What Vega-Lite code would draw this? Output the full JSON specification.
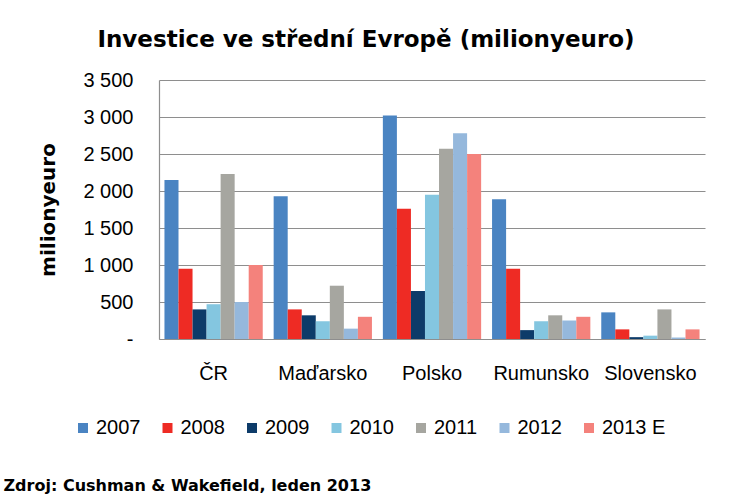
{
  "$schema": "https://vega.github.io/schema/vega-lite/v6.json",
  "autosize": {"type": "none"},
  "width": 546,
  "height": 259,
  "padding": {"left": 159, "top": 80, "right": 28, "bottom": 158},
  "background": "white",
  "title": {
    "text": "Investice ve střední Evropě (milionyeuro)",
    "font": "DejaVu Sans",
    "fontSize": 23,
    "fontWeight": "bold",
    "color": "#000000",
    "anchor": "middle",
    "frame": "group",
    "baseline": "alphabetic",
    "offset": 32,
    "dy": 32,
    "dx": -66
  },
  "data": {
    "values": [
      {"zeme": "ČR", "rok": "2007", "hodnota": 2150},
      {"zeme": "ČR", "rok": "2008", "hodnota": 950},
      {"zeme": "ČR", "rok": "2009", "hodnota": 400},
      {"zeme": "ČR", "rok": "2010", "hodnota": 470},
      {"zeme": "ČR", "rok": "2011", "hodnota": 2230},
      {"zeme": "ČR", "rok": "2012", "hodnota": 500},
      {"zeme": "ČR", "rok": "2013 E", "hodnota": 1000},
      {"zeme": "Maďarsko", "rok": "2007", "hodnota": 1930},
      {"zeme": "Maďarsko", "rok": "2008", "hodnota": 400},
      {"zeme": "Maďarsko", "rok": "2009", "hodnota": 320},
      {"zeme": "Maďarsko", "rok": "2010", "hodnota": 240},
      {"zeme": "Maďarsko", "rok": "2011", "hodnota": 720},
      {"zeme": "Maďarsko", "rok": "2012", "hodnota": 140},
      {"zeme": "Maďarsko", "rok": "2013 E", "hodnota": 300},
      {"zeme": "Polsko", "rok": "2007", "hodnota": 3020},
      {"zeme": "Polsko", "rok": "2008", "hodnota": 1760},
      {"zeme": "Polsko", "rok": "2009", "hodnota": 650},
      {"zeme": "Polsko", "rok": "2010", "hodnota": 1950},
      {"zeme": "Polsko", "rok": "2011", "hodnota": 2570},
      {"zeme": "Polsko", "rok": "2012", "hodnota": 2780},
      {"zeme": "Polsko", "rok": "2013 E", "hodnota": 2500},
      {"zeme": "Rumunsko", "rok": "2007", "hodnota": 1890},
      {"zeme": "Rumunsko", "rok": "2008", "hodnota": 950},
      {"zeme": "Rumunsko", "rok": "2009", "hodnota": 120},
      {"zeme": "Rumunsko", "rok": "2010", "hodnota": 240},
      {"zeme": "Rumunsko", "rok": "2011", "hodnota": 320},
      {"zeme": "Rumunsko", "rok": "2012", "hodnota": 250},
      {"zeme": "Rumunsko", "rok": "2013 E", "hodnota": 300},
      {"zeme": "Slovensko", "rok": "2007", "hodnota": 360},
      {"zeme": "Slovensko", "rok": "2008", "hodnota": 130},
      {"zeme": "Slovensko", "rok": "2009", "hodnota": 25},
      {"zeme": "Slovensko", "rok": "2010", "hodnota": 45},
      {"zeme": "Slovensko", "rok": "2011", "hodnota": 400},
      {"zeme": "Slovensko", "rok": "2012", "hodnota": 20},
      {"zeme": "Slovensko", "rok": "2013 E", "hodnota": 130}
    ]
  },
  "mark": {"type": "bar"},
  "encoding": {
    "x": {
      "field": "zeme",
      "type": "nominal",
      "sort": null,
      "scale": {"paddingInner": 0.1, "paddingOuter": 0.05},
      "axis": {
        "title": "Zdroj: Cushman & Wakefield, leden 2013",
        "titleFont": "DejaVu Sans",
        "titleFontSize": 16,
        "titleFontWeight": "bold",
        "titleColor": "#000000",
        "titleAlign": "left",
        "titleAnchor": "start",
        "titleBaseline": "alphabetic",
        "titleX": -156,
        "titleY": 151,
        "labelAngle": 0,
        "labelFont": "Liberation Sans",
        "labelFontSize": 20,
        "labelColor": "#000000",
        "labelPadding": 24,
        "ticks": false,
        "domainColor": "#8e8e8e",
        "domainWidth": 1.2
      }
    },
    "xOffset": {
      "field": "rok",
      "type": "nominal",
      "sort": null,
      "scale": {"paddingInner": 0, "paddingOuter": 0}
    },
    "y": {
      "field": "hodnota",
      "type": "quantitative",
      "scale": {"domain": [0, 3500], "nice": false},
      "axis": {
        "title": "milionyeuro",
        "titleFont": "DejaVu Sans",
        "titleFontSize": 20,
        "titleFontWeight": "bold",
        "titleColor": "#000000",
        "titlePadding": 24,
        "values": [0, 500, 1000, 1500, 2000, 2500, 3000, 3500],
        "labelExpr": "datum.value == 0 ? '-' : replace(format(datum.value, ','), ',', ' ')",
        "labelFont": "Liberation Sans",
        "labelFontSize": 20,
        "labelColor": "#000000",
        "labelPadding": 26,
        "ticks": false,
        "grid": true,
        "gridColor": "#8e8e8e",
        "gridWidth": 1.2,
        "domainColor": "#8e8e8e",
        "domainWidth": 1.2
      }
    },
    "color": {
      "field": "rok",
      "type": "nominal",
      "sort": null,
      "scale": {
        "domain": ["2007", "2008", "2009", "2010", "2011", "2012", "2013 E"],
        "range": ["#4a84c2", "#ee2b24", "#0d3b69", "#84c6e0", "#a6a6a0", "#95b8dc", "#f4827c"]
      },
      "legend": {
        "title": null,
        "orient": "none",
        "direction": "horizontal",
        "legendX": -86,
        "legendY": 338,
        "symbolType": "square",
        "symbolSize": 100,
        "symbolStrokeWidth": 0,
        "labelFont": "Liberation Sans",
        "labelFontSize": 20,
        "labelColor": "#000000",
        "labelOffset": 3,
        "columnPadding": 16.5
      }
    }
  },
  "config": {
    "view": {"stroke": null}
  }
}
